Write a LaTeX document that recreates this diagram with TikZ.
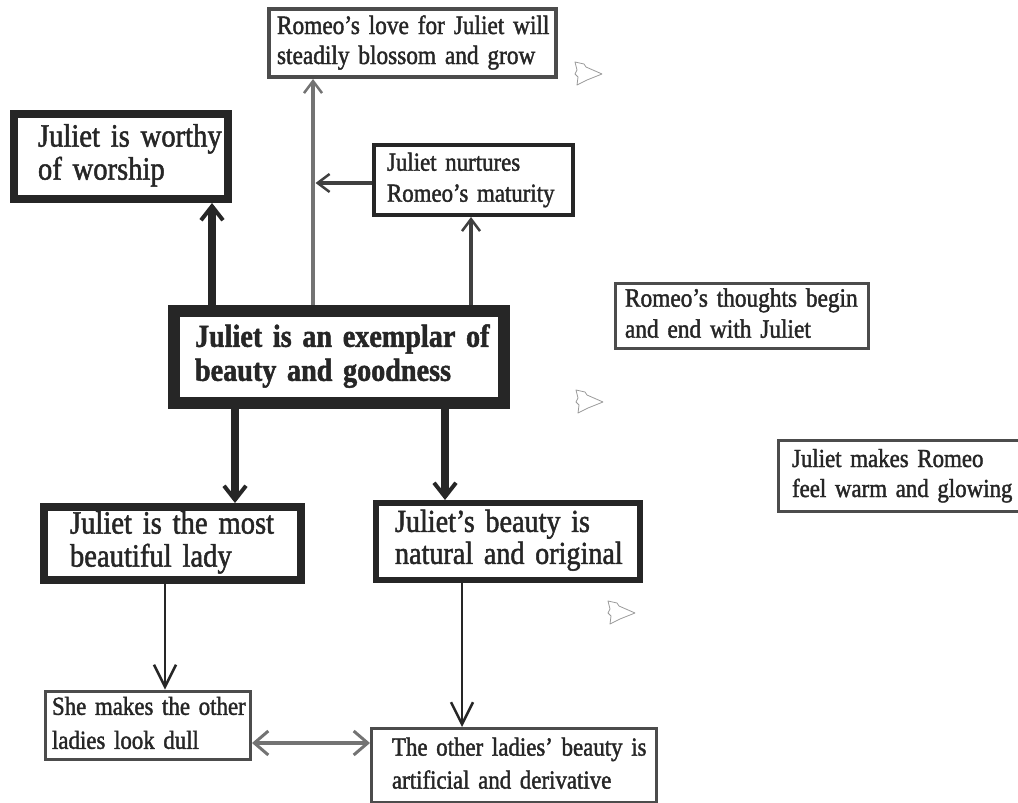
\documentclass[tikz,border=0pt]{standalone}
\usepackage{fontspec}
\setmainfont{Liberation Serif}[FakeStretch=0.88, FakeBold=1.5]
\usetikzlibrary{arrows.meta}
\pgfdeclarelayer{bg}
\pgfsetlayers{bg,main}
\newcommand\twolines[2]{\begin{tabular}{@{}l@{}}#1\\#2\end{tabular}}
\begin{document}
\begin{tikzpicture}[x=1pt,y=-1pt,
  box/.style={rectangle, draw=black!85, fill=white, inner ysep=0pt, outer sep=0pt, align=left, text=black!85},
  heavybox/.style={box, draw=black!85},
  lightbox/.style={box, draw=black!70},
  bigfont/.style={font=\fontsize{32.5}{33}\selectfont},
  smallfont/.style={font=\fontsize{27}{30}\selectfont},
  heavyarrow/.style={draw=black!85, line width=8pt, -{Straight Barb[length=14pt, width=22pt, line width=4pt]}},
  midarrow/.style={draw=black!75, line width=3.5pt, -{Straight Barb[length=12pt, width=18pt, line width=2.5pt]}},
  greyarrow/.style={draw=black!55, line width=4.5pt, -{Straight Barb[length=12pt, width=18pt, line width=2.5pt]}},
  thinarrow/.style={draw=black!85, line width=2pt, -{Straight Barb[length=22pt, width=22pt, line width=2.5pt]}},
  botharrow/.style={draw=black!55, line width=4pt, {Straight Barb[length=14pt, width=24pt, line width=3pt]}-{Straight Barb[length=14pt, width=24pt, line width=3pt]}},
  decor/.style={draw=black!40, line width=0.8pt, line join=round}
]
\useasboundingbox (0,0) rectangle (1018,803);

% boxes
\node[lightbox, line width=4pt, minimum width=287pt, minimum height=68pt, inner xsep=8pt, text width=271pt, font=\fontsize{26.5}{30}\selectfont] (top) at (412.5,43)
  {\twolines{Romeo's love for Juliet will}{steadily blossom and grow}};
\node[heavybox, line width=8pt, minimum width=214pt, minimum height=85pt, inner xsep=24pt, text width=166pt, bigfont] (worthy) at (121,156.5)
  {\twolines{Juliet is worthy}{of worship}};
\node[heavybox, line width=4pt, minimum width=199pt, minimum height=70pt, inner xsep=13pt, text width=173pt, font=\fontsize{26}{31}\selectfont] (nurtures) at (473.5,180)
  {\twolines{Juliet nurtures}{Romeo's maturity}};
\node[heavybox, line width=12pt, minimum width=330pt, minimum height=92pt, inner xsep=21pt, text width=288pt, font=\fontsize{32}{34}\selectfont\bfseries] (central) at (339,357)
  {\twolines{Juliet is an exemplar of}{beauty and goodness}};
\node[lightbox, line width=3pt, minimum width=253pt, minimum height=65pt, inner xsep=9.5pt, text width=234pt, font=\fontsize{26.5}{31}\selectfont] (thoughts) at (742,316)
  {\twolines{Romeo's thoughts begin}{and end with Juliet}};
\node[lightbox, line width=3pt, minimum width=257pt, minimum height=71pt, inner xsep=13.5pt, text width=230pt, font=\fontsize{26}{30}\selectfont] (warm) at (907,476)
  {\twolines{Juliet makes Romeo}{feel warm and glowing}};
\node[heavybox, line width=8pt, minimum width=257pt, minimum height=73pt, inner xsep=26pt, text width=205pt, bigfont] (beautiful) at (172.5,543.5)
  {\twolines{Juliet is the most}{beautiful lady}};
\node[heavybox, line width=6pt, minimum width=264pt, minimum height=77pt, inner xsep=19pt, text width=226pt, font=\fontsize{32}{32}\selectfont] (natural) at (508,541.5)
  {\twolines{Juliet's beauty is}{natural and original}};
\node[lightbox, line width=3pt, minimum width=205pt, minimum height=67pt, inner xsep=6.5pt, text width=192pt, font=\fontsize{26}{34}\selectfont] (she) at (148,725)
  {\twolines{She makes the other}{ladies look dull}};
\node[lightbox, line width=3pt, minimum width=285pt, minimum height=74pt, inner xsep=20.5pt, text width=244pt, font=\fontsize{26}{33}\selectfont] (other) at (514,765.5)
  {\twolines{The other ladies' beauty is}{artificial and derivative}};

% connectors
\coordinate (tl) at ([xshift=139pt]central.north west);
\begin{pgfonlayer}{bg}
\draw[heavyarrow, shorten >=4pt] ([xshift=38pt]central.north west) -- ([xshift=38pt]central.north west |- worthy.south);
\draw[greyarrow, shorten >=2pt] (tl) -- (tl |- top.south);
\draw[midarrow, shorten >=2pt] ([xshift=297pt]central.north west) -- ([xshift=297pt]central.north west |- nurtures.south);
\draw[midarrow, shorten >=2.5pt] ([yshift=-3pt]nurtures.west) -- ([yshift=-3pt]nurtures.west -| tl);
\draw[heavyarrow, shorten >=4pt] ([xshift=61pt]central.south west) -- ([xshift=61pt]central.south west |- beautiful.north);
\draw[heavyarrow, shorten >=3pt] ([xshift=271pt]central.south west) -- ([xshift=271pt]central.south west |- natural.north);
\draw[thinarrow, shorten >=1.5pt] ([xshift=121pt]beautiful.south west) -- ([xshift=121pt]beautiful.south west |- she.north);
\draw[thinarrow, shorten >=1.5pt] ([xshift=86pt]natural.south west) -- ([xshift=86pt]natural.south west |- other.north);
\draw[botharrow, shorten >=1.5pt, shorten <=1.5pt] ([yshift=-18pt]she.east) -- ([yshift=-18pt]she.east -| other.west);
\end{pgfonlayer}

% small outline marks
\foreach \px/\py in {575/62, 576/390, 608/601}{
  \draw[decor, shift={(\px,\py)}] (0,0) -- (9,2) -- (11,5) -- (27,12) -- (12,18) -- (2,23) -- (3,15) -- (0,12) -- (2,8) -- cycle;
}
\end{tikzpicture}
\end{document}
